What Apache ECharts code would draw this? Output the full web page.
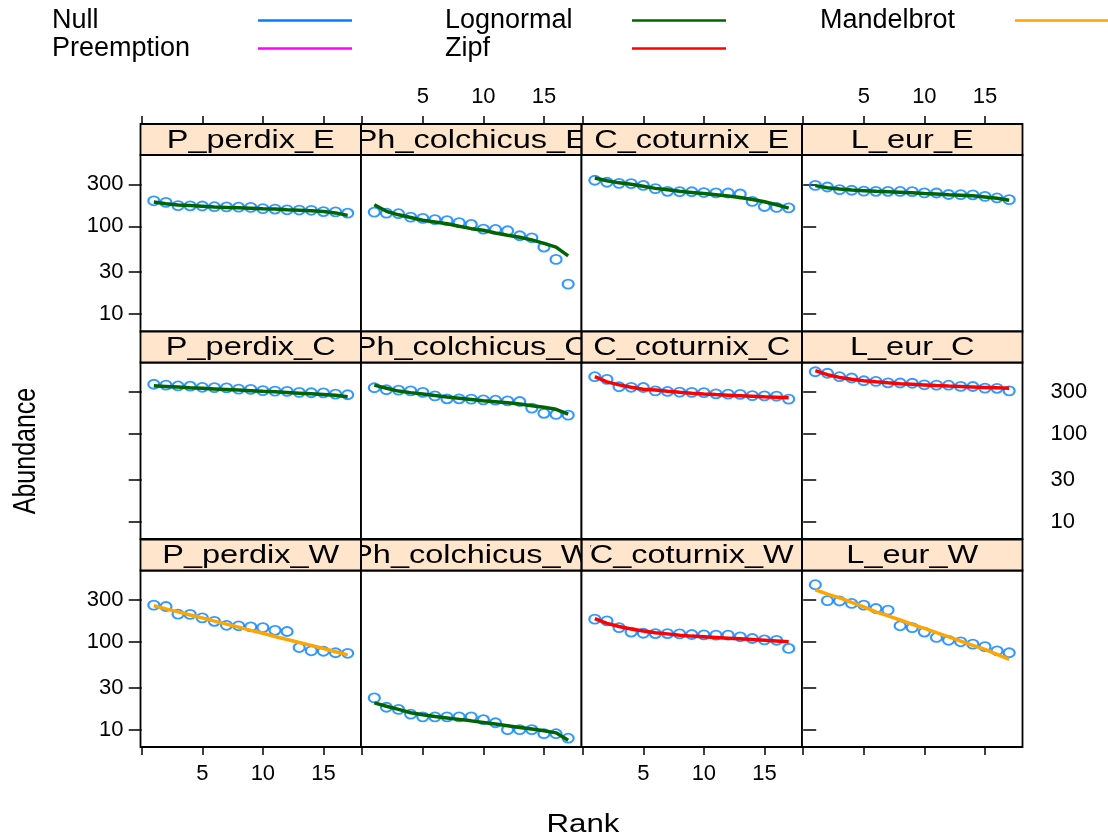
<!DOCTYPE html>
<html>
<head>
<meta charset="utf-8">
<script src="https://cdn.jsdelivr.net/npm/echarts@6/dist/echarts.min.js"></script>
<style>
html,body{margin:0;padding:0;background:#fff;}
#chart{width:1108px;height:838px;}
</style>
</head>
<body>
<div id="chart"></div>
<script>
// ---------------- data ----------------
const ranks = [1, 2, 3, 4, 5, 6, 7, 8, 9, 10, 11, 12, 13, 14, 15, 16, 17];
const panelNames = ['P_perdix_E', 'Ph_colchicus_E', 'C_coturnix_E', 'L_eur_E',
                    'P_perdix_C', 'Ph_colchicus_C', 'C_coturnix_C', 'L_eur_C',
                    'P_perdix_W', 'Ph_colchicus_W', 'C_coturnix_W', 'L_eur_W'];
const bestModels = ['Lognormal', 'Lognormal', 'Lognormal', 'Lognormal',
                    'Lognormal', 'Lognormal', 'Zipf', 'Zipf',
                    'Mandelbrot', 'Lognormal', 'Zipf', 'Mandelbrot'];
const modelNames = ['Null', 'Preemption', 'Lognormal', 'Zipf', 'Mandelbrot'];
const yTickValues = [10, 30, 100, 300];
const xTickLabels = [5, 10, 15];
const xTickMarks = [0, 5, 10, 15];

// observed abundances (ranked)
const obs_P_perdix_E     = [195, 187, 172, 171, 170, 167, 166, 165, 164, 159, 157, 154, 153, 152, 147, 146, 141];
const obs_Ph_colchicus_E = [145, 141, 139, 127, 123, 119, 116, 110, 105, 93, 92, 89, 78, 74, 58, 42, 22];
const obs_C_coturnix_E   = [334, 317, 308, 306, 292, 268, 250, 248, 247, 242, 240, 239, 233, 192, 168, 164, 162];
const obs_L_eur_E        = [292, 280, 261, 257, 251, 250, 250, 249, 248, 240, 239, 230, 229, 228, 219, 210, 201];
const obs_P_perdix_C     = [366, 358, 350, 348, 338, 335, 333, 322, 320, 310, 306, 304, 296, 293, 292, 283, 278];
const obs_Ph_colchicus_C = [334, 317, 314, 308, 296, 270, 250, 250, 248, 243, 241, 237, 233, 196, 171, 166, 163];
const obs_C_coturnix_C   = [446, 416, 343, 338, 336, 308, 303, 298, 296, 294, 285, 283, 281, 272, 270, 268, 248];
const obs_L_eur_C        = [508, 488, 446, 431, 401, 395, 380, 378, 376, 361, 358, 357, 346, 345, 331, 329, 308];
const obs_P_perdix_W     = [261, 252, 206, 205, 187, 171, 154, 152, 148, 145, 135, 131, 86, 79, 78, 75, 74];
const obs_Ph_colchicus_W = [23, 18, 17, 15, 14, 14, 14, 14, 14, 13, 12, 10, 10, 10, 9, 9, 8];
const obs_C_coturnix_W   = [181, 173, 145, 129, 125, 124, 124, 123, 121, 120, 119, 119, 114, 109, 105, 104, 84];
const obs_L_eur_W        = [446, 294, 291, 273, 261, 239, 229, 152, 145, 129, 112, 104, 100, 94, 88, 79, 75];

// fitted values of the best model
const fit_P_perdix_E     = [189, 180, 175, 172, 169, 166, 164, 162, 160, 158, 157, 154, 152, 150, 147, 142, 133];
const fit_Ph_colchicus_E = [176, 148, 135, 126, 117, 112, 107, 100, 94, 90, 84, 79, 75, 70, 64, 58, 46];
const fit_C_coturnix_E   = [355, 330, 312, 300, 285, 270, 260, 250, 243, 236, 229, 221, 212, 202, 190, 176, 161];
const fit_L_eur_E        = [290, 275, 265, 258, 254, 250, 247, 244, 240, 236, 233, 229, 226, 222, 216, 208, 198];
const fit_P_perdix_C     = [352, 346, 340, 334, 329, 324, 319, 314, 309, 304, 300, 295, 290, 285, 280, 274, 264];
const fit_Ph_colchicus_C = [358, 330, 306, 294, 283, 272, 262, 254, 246, 238, 232, 225, 218, 209, 200, 190, 167];
const fit_C_coturnix_C   = [446, 390, 360, 338, 322, 314, 305, 297, 290, 284, 279, 275, 271, 267, 263, 260, 257];
const fit_L_eur_C        = [522, 470, 438, 418, 402, 390, 380, 372, 366, 360, 354, 349, 345, 341, 337, 333, 329];
const fit_P_perdix_W     = [257, 237, 219, 202, 187, 172, 159, 147, 135, 125, 115, 106, 98, 91, 84, 77, 71];
const fit_Ph_colchicus_W = [20.2, 18.5, 17, 15.6, 14.8, 14.1, 13.6, 13.1, 12.6, 12.1, 11.6, 11.1, 10.6, 10.2, 9.7, 9.2, 7.6];
const fit_C_coturnix_W   = [184, 162, 149, 140, 133, 127, 123, 119, 116, 114, 112, 110, 108, 106, 104, 102, 100];
const fit_L_eur_W        = [391, 349, 316, 281, 250, 219, 197, 177, 158, 142, 127, 114, 102, 91, 82, 72, 63];

const obsList = [obs_P_perdix_E, obs_Ph_colchicus_E, obs_C_coturnix_E, obs_L_eur_E,
                 obs_P_perdix_C, obs_Ph_colchicus_C, obs_C_coturnix_C, obs_L_eur_C,
                 obs_P_perdix_W, obs_Ph_colchicus_W, obs_C_coturnix_W, obs_L_eur_W];
const fitList = [fit_P_perdix_E, fit_Ph_colchicus_E, fit_C_coturnix_E, fit_L_eur_E,
                 fit_P_perdix_C, fit_Ph_colchicus_C, fit_C_coturnix_C, fit_L_eur_C,
                 fit_P_perdix_W, fit_Ph_colchicus_W, fit_C_coturnix_W, fit_L_eur_W];

// ---------------- style / layout ----------------
const FONT = "'Liberation Sans', Arial, Helvetica, sans-serif";
const modelColors = { Null: '#0080ff', Preemption: '#ff00ff', Lognormal: '#006400', Zipf: '#ff0000', Mandelbrot: '#ffa500' };
const pointColor = '#0080ff';
const colLeft = [140.5, 361, 581.5, 802];
const rowTop = [155, 362.5, 570.5];
const PW = 220.5, PH = 176.5, SH = 31;
const XMIN = -0.1, XMAX = 18.1;
const YMIN = 0.803, YMAX = 2.811;   // log10 limits of the abundance axis
const STRETCH = 1.25;

const grids = [], xAxes = [], yAxes = [], series = [], elements = [];

panelNames.forEach((name, i) => {
  const r = Math.floor(i / 4), c = i % 4;
  grids.push({
    left: colLeft[c], top: rowTop[r], width: PW, height: PH,
    show: true, borderColor: '#000', borderWidth: 1.8, backgroundColor: '#fff'
  });
  const xLab = (r === 0 && (c === 1 || c === 3)) || (r === 2 && (c === 0 || c === 2));
  xAxes.push({
    gridIndex: i, type: 'value', min: XMIN, max: XMAX,
    position: r === 0 ? 'top' : 'bottom', offset: r === 0 ? SH : 0,
    axisLine: { show: false }, splitLine: { show: false },
    axisTick: { show: r !== 1, inside: false, length: 8, customValues: xTickMarks,
                lineStyle: { color: '#000', width: 1.5 } },
    axisLabel: { show: xLab, customValues: xTickLabels, margin: 16, fontSize: 22,
                 color: '#000', fontFamily: FONT }
  });
  const yTicksShow = (c === 0 || c === 3);
  const yLab = (c === 0 && r !== 1) || (c === 3 && r === 1);
  const yTickPos = yTickValues.map(v => Math.log10(v));
  yAxes.push({
    gridIndex: i, type: 'value', min: YMIN, max: YMAX,
    position: c === 3 ? 'right' : 'left',
    axisLine: { show: false }, splitLine: { show: false },
    axisTick: { show: yTicksShow, inside: false, length: 13, customValues: yTickPos,
                lineStyle: { color: '#000', width: 1.5 } },
    axisLabel: { show: yLab, customValues: yTickPos, margin: c === 3 ? 28 : 17, fontSize: 22,
                 color: '#000', fontFamily: FONT,
                 formatter: v => String(Math.round(Math.pow(10, v))) }
  });
  series.push({
    name: 'Observed', type: 'scatter', xAxisIndex: i, yAxisIndex: i, z: 2, silent: true,
    symbol: 'circle', symbolSize: [11, 9],
    itemStyle: { color: 'rgba(0,0,0,0)', borderColor: pointColor, borderWidth: 2 },
    data: ranks.map((rk, k) => [rk, Math.log10(obsList[i][k])])
  });
  const m = bestModels[i];
  series.push({
    name: m, type: 'line', xAxisIndex: i, yAxisIndex: i, z: 3, silent: true,
    showSymbol: false, symbol: 'none',
    lineStyle: { color: modelColors[m], width: 3.5 },
    itemStyle: { color: modelColors[m] },
    data: ranks.map((rk, k) => [rk, Math.log10(fitList[i][k])])
  });

  // strip
  const sx = colLeft[c], sy = rowTop[r] - SH;
  elements.push({ type: 'rect', z: 10, shape: { x: sx, y: sy, width: PW, height: SH },
                  style: { fill: '#ffe5cc', stroke: null } });
  elements.push({ type: 'text', z: 11, x: sx + PW / 2, y: sy + SH / 2 + 1, scaleX: STRETCH,
                  style: { text: name, fontSize: 26, fontFamily: FONT, fill: '#000',
                           align: 'center', verticalAlign: 'middle' } });
});

// masks to clip strip text overflowing into neighbour strips, then strip borders
panelNames.forEach((name, i) => {
  const r = Math.floor(i / 4), c = i % 4;
  const sx = colLeft[c], sy = rowTop[r] - SH;
  if (c === 1) {
    elements.push({ type: 'rect', z: 12, shape: { x: sx - 9, y: sy + 1, width: 9, height: SH - 2 },
                    style: { fill: '#ffe5cc' } });
    elements.push({ type: 'rect', z: 12, shape: { x: sx + PW, y: sy + 1, width: 9, height: SH - 2 },
                    style: { fill: '#ffe5cc' } });
  }
});
panelNames.forEach((name, i) => {
  const r = Math.floor(i / 4), c = i % 4;
  elements.push({ type: 'rect', z: 13, shape: { x: colLeft[c], y: rowTop[r] - SH, width: PW, height: SH },
                  style: { fill: null, stroke: '#000', lineWidth: 1.8 } });
});

// axis titles
elements.push({ type: 'text', z: 11, x: 583, y: 825, scaleX: STRETCH,
                style: { text: 'Rank', fontSize: 25, fontFamily: FONT, fill: '#000',
                         align: 'center', verticalAlign: 'middle' } });
elements.push({ type: 'text', z: 11, x: 26, y: 451, rotation: Math.PI / 2, scaleY: STRETCH,
                style: { text: 'Abundance', fontSize: 25, fontFamily: FONT, fill: '#000',
                         align: 'center', verticalAlign: 'middle' } });

// legend-only series
series.push({ name: 'Null', type: 'line', data: [], itemStyle: { color: modelColors.Null },
              lineStyle: { color: modelColors.Null } });
series.push({ name: 'Preemption', type: 'line', data: [], itemStyle: { color: modelColors.Preemption },
              lineStyle: { color: modelColors.Preemption } });

function legendBlock(names, left, textWidth) {
  return {
    data: names, left: left, top: 7, orient: 'vertical', align: 'right',
    icon: 'rect', itemWidth: 94, itemHeight: 2.5, itemGap: 1, padding: 0,
    selectedMode: false,
    formatter: n => '{n|' + n + '}',
    textStyle: { color: '#000', rich: { n: { width: textWidth, fontSize: 27, lineHeight: 27,
                 fontFamily: FONT, color: '#000', align: 'left' } } }
  };
}

const option = {
  animation: false,
  backgroundColor: '#fff',
  legend: [
    legendBlock([modelNames[0], modelNames[1]], 52, 201),
    legendBlock([modelNames[2], modelNames[3]], 445, 182),
    legendBlock([modelNames[4]], 820, 190)
  ],
  grid: grids,
  xAxis: xAxes,
  yAxis: yAxes,
  series: series,
  graphic: { elements: elements }
};

const chart = echarts.init(document.getElementById('chart'), null, { renderer: 'canvas' });
chart.setOption(option);
</script>
</body>
</html>
